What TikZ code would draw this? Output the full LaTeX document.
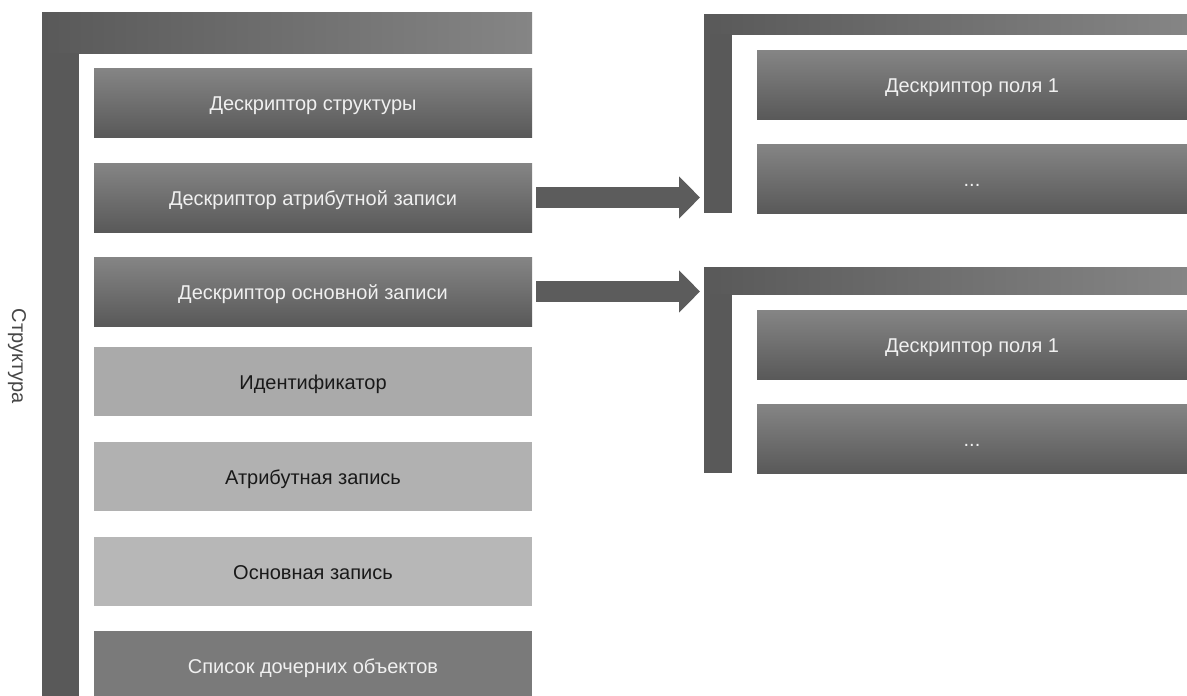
\documentclass[tikz,border=0pt]{standalone}
\usepackage{fontspec}
\setmainfont{Liberation Sans}
\usetikzlibrary{positioning, arrows.meta}
\definecolor{bardark}{RGB}{89,89,89}
\definecolor{barlight}{RGB}{133,133,133}
\definecolor{boxtop}{RGB}{133,133,133}
\definecolor{boxbot}{RGB}{89,89,89}
\definecolor{idgray}{RGB}{170,170,170}
\definecolor{attrgray}{RGB}{177,177,177}
\definecolor{maingray}{RGB}{183,183,183}
\definecolor{listgray}{RGB}{122,122,122}
\definecolor{arrowgray}{RGB}{92,92,92}
\definecolor{labelgray}{RGB}{70,70,70}

\begin{document}
\begin{tikzpicture}[x=1pt, y=-1pt,
    every node/.style={inner sep=0pt, outer sep=0pt, font=\fontsize{20}{24}\selectfont},
    hbar/.style={anchor=north west, left color=bardark, right color=barlight},
    vbar/.style={anchor=north west, fill=bardark},
    darkbox/.style={anchor=north west, minimum height=69pt, text height=15pt, text depth=0pt, top color=boxtop, bottom color=boxbot, text=white!94!black},
    lightbox/.style={anchor=north west, minimum width=438pt, minimum height=69pt, text height=15pt, text depth=0pt, text=black!90},
    bigarrow/.style={draw=arrowgray, line width=21pt, -{Triangle[length=21pt, width=41pt]}}]
    \useasboundingbox[fill=white] (0,0) rectangle (1187,696);

    % Structure bracket
    \node[hbar, minimum width=490pt, minimum height=41pt] (stbar) at (42,12) {};
    \node[vbar, minimum width=37pt, minimum height=650pt] (stside) at (42,53) {};
    \node[labelgray, rotate=-90] (stlabel) at (17,356) {Структура};

    % Structure parts
    \node[darkbox, minimum width=438pt] (sdesc) at (94,68) {Дескриптор структуры};
    \node[darkbox, minimum width=438pt] (adesc) at (94,163) {Дескриптор атрибутной записи};
    \node[darkbox, minimum width=438pt] (mdesc) at (94,257) {Дескриптор основной записи};
    \node[lightbox, fill=idgray] (ident) at (94,347) {Идентификатор};
    \node[lightbox, fill=attrgray] (arec) at (94,442) {Атрибутная запись};
    \node[lightbox, fill=maingray] (mrec) at (94,537) {Основная запись};
    \node[lightbox, fill=listgray, text=white!94!black] (kids) at (94,631) {Список дочерних объектов};

    % Field descriptors (attribute record)
    \node[hbar, minimum width=483pt, minimum height=20pt] (abar) at (704,14) {};
    \node[vbar, minimum width=28pt, minimum height=179pt] (aside) at (704,34) {};
    \node[darkbox, minimum width=430pt] (afield) at (757,50) {Дескриптор поля 1};
    \node[darkbox, minimum width=430pt] (amore) at (757,144) {...};

    % Field descriptors (main record)
    \node[hbar, minimum width=483pt, minimum height=27pt] (mbar) at (704,267) {};
    \node[vbar, minimum width=28pt, minimum height=179pt] (mside) at (704,294) {};
    \node[darkbox, minimum width=430pt] (mfield) at (757,310) {Дескриптор поля 1};
    \node[darkbox, minimum width=430pt] (mmore) at (757,404) {...};

    % Links
    \draw[bigarrow] ([xshift=4pt]adesc.east) -- ([xshift=-4pt]adesc.east -| aside.west);
    \draw[bigarrow] ([xshift=4pt]mdesc.east) -- ([xshift=-4pt]mdesc.east -| mside.west);
\end{tikzpicture}
\end{document}
